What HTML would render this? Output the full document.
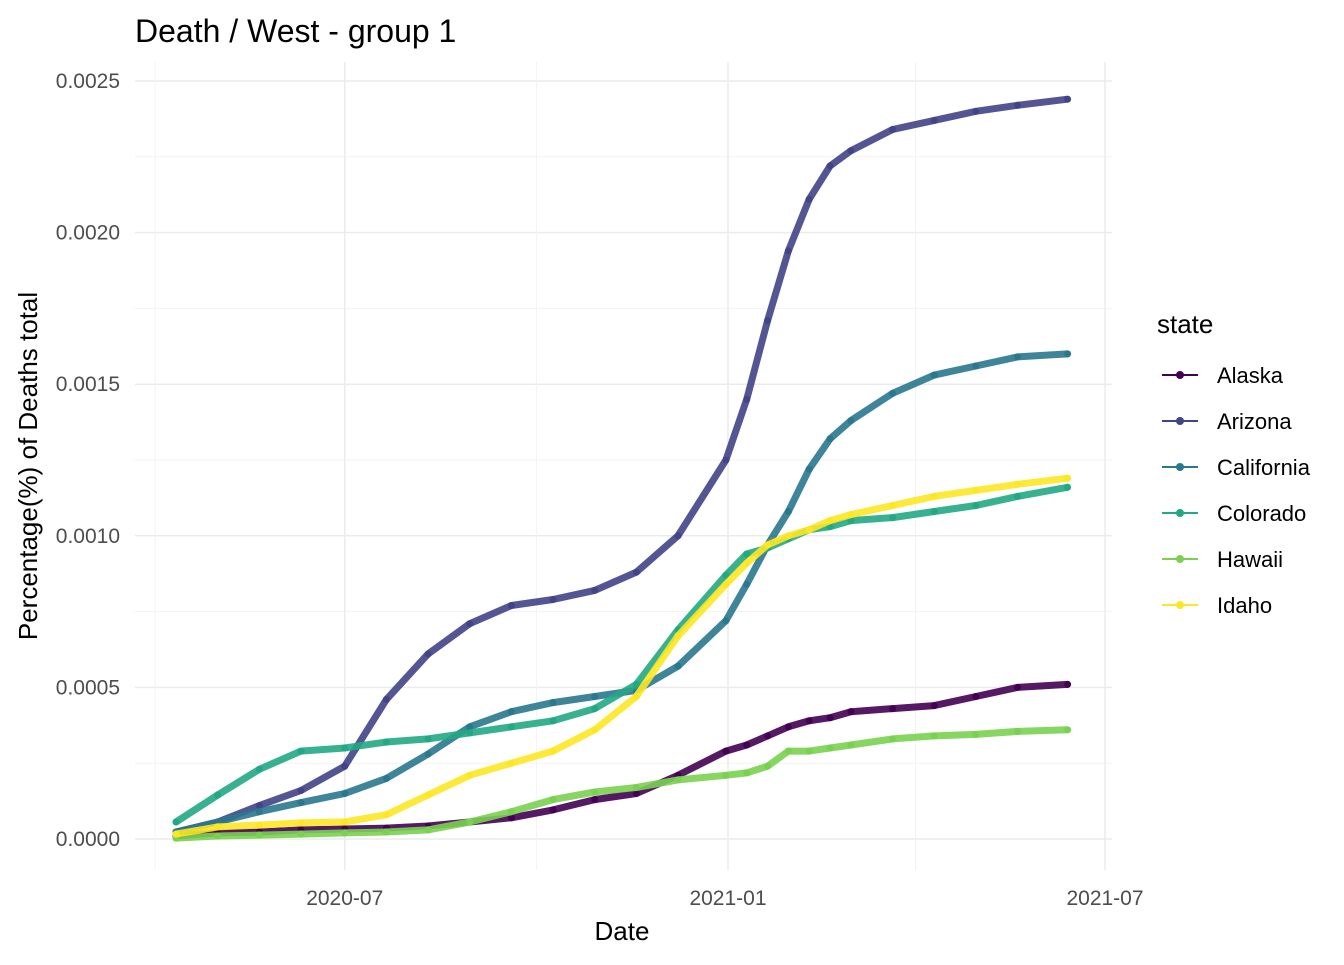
<!DOCTYPE html>
<html><head><meta charset="utf-8"><style>
body{margin:0;background:#fff;}
svg text{font-family:"Liberation Sans",Arial,sans-serif;}
</style></head><body>
<svg id="chart" width="1344" height="960">
<rect width="1344" height="960" fill="#fff"/>
<g id="grid"></g><g id="series"></g><g id="axes"></g>
<text x="135" y="42" font-size="32" fill="#000">Death / West - group 1</text>
<text x="622" y="940" font-size="26" text-anchor="middle" fill="#000">Date</text>
<text transform="translate(37,466) rotate(-90)" font-size="26" text-anchor="middle" fill="#000">Percentage(%) of Deaths total</text>
<text x="1157" y="333" font-size="26" fill="#000">state</text>
<g id="legend"></g>
</svg>
<script>
const dates=["2020-04-11","2020-05-01","2020-05-21","2020-06-10","2020-07-01","2020-07-21","2020-08-10","2020-08-30","2020-09-19","2020-10-09","2020-10-29","2020-11-18","2020-12-08","2020-12-31","2021-01-10","2021-01-20","2021-01-30","2021-02-09","2021-02-19","2021-03-01","2021-03-21","2021-04-10","2021-04-30","2021-05-20","2021-06-13"];
const states=["Alaska","Arizona","California","Colorado","Hawaii","Idaho"];
const alaska=[0.00001,0.00002,0.000023,0.00003,0.000033,0.000036,0.000043,0.000056,0.00007,0.000096,0.00013,0.00015,0.00021,0.00029,0.00031,0.00034,0.00037,0.00039,0.0004,0.00042,0.00043,0.00044,0.00047,0.0005,0.00051];
const arizona=[0.000023,0.000056,0.00011,0.00016,0.00024,0.00046,0.00061,0.00071,0.00077,0.00079,0.00082,0.00088,0.001,0.00125,0.00145,0.00171,0.00194,0.00211,0.00222,0.00227,0.00234,0.00237,0.0024,0.00242,0.00244];
const california=[0.000023,0.000056,0.00009,0.00012,0.00015,0.0002,0.00028,0.00037,0.00042,0.00045,0.00047,0.00049,0.00057,0.00072,0.00084,0.00097,0.00108,0.00122,0.00132,0.00138,0.00147,0.00153,0.00156,0.00159,0.0016];
const colorado=[0.000056,0.000145,0.00023,0.00029,0.0003,0.00032,0.00033,0.00035,0.00037,0.00039,0.00043,0.00051,0.00069,0.00087,0.00094,0.00096,0.00099,0.00102,0.00103,0.00105,0.00106,0.00108,0.0011,0.00113,0.00116];
const hawaii=[0.000003,0.00001,0.000013,0.000016,0.00002,0.000023,0.00003,0.000056,0.00009,0.00013,0.000155,0.00017,0.000195,0.00021,0.000218,0.00024,0.00029,0.00029,0.0003,0.00031,0.00033,0.00034,0.000345,0.000355,0.00036];
const idaho=[0.000016,0.00004,0.000046,0.000053,0.000056,0.00008,0.000145,0.00021,0.00025,0.00029,0.00036,0.00047,0.00067,0.00084,0.00091,0.00097,0.001,0.00102,0.00105,0.00107,0.0011,0.00113,0.00115,0.00117,0.00119];
const yTicks=[0,0.0005,0.001,0.0015,0.002,0.0025];
const yTickLabels=["0.0000","0.0005","0.0010","0.0015","0.0020","0.0025"];
const xTicks=["2020-07-01","2021-01-01","2021-07-01"];
const xTickLabels=["2020-07","2021-01","2021-07"];
const xMinor=["2020-04-01","2020-10-01","2021-04-01"];

const colors=["#440154","#414487","#2A788E","#22A884","#7AD151","#FDE725"];
const allSeries=[alaska,arizona,california,colorado,hawaii,idaho];
const NS="http://www.w3.org/2000/svg";
const t0=Date.parse("2021-01-01");
function xs(d){return 728+(Date.parse(d)-t0)/86400000*2.083;}
function ys(v){return 839-v/0.0005*151.6;}
function mk(tag,attrs,parent){const e=document.createElementNS(NS,tag);for(const k in attrs)e.setAttribute(k,attrs[k]);parent.appendChild(e);return e;}
const grid=document.getElementById('grid'),axes=document.getElementById('axes'),ser=document.getElementById('series'),leg=document.getElementById('legend');
const L=135,R=1112,T=62,B=870;
for(let i=0;i<yTicks.length;i++){
  const y=ys(yTicks[i]);
  const g=mk('line',{x1:L,x2:R,y1:y,y2:y,stroke:'#EBEBEB','stroke-width':1.5},grid);
  
  
  if(i<yTicks.length-1){const ym=ys((yTicks[i]+yTicks[i+1])/2);
    const m=mk('line',{x1:L,x2:R,y1:ym,y2:ym,stroke:'#F3F3F3','stroke-width':1},grid);
    
    }
  const t=mk('text',{x:120,y:y+7,'font-size':21,'text-anchor':'end',fill:'#4D4D4D'},axes);t.textContent=yTickLabels[i];
  
  
}
xTicks.forEach((d,i)=>{const x=xs(d);
  const g=mk('line',{x1:x,x2:x,y1:T,y2:B,stroke:'#EBEBEB','stroke-width':1.5},grid);
  
  
  const t=mk('text',{x:x,y:905,'font-size':21,'text-anchor':'middle',fill:'#4D4D4D'},axes);t.textContent=xTickLabels[i];
  
  
});
xMinor.forEach(d=>{const x=xs(d);
  const g=mk('line',{x1:x,x2:x,y1:T,y2:B,stroke:'#F3F3F3','stroke-width':1},grid);
  
  });
allSeries.forEach((vals,si)=>{
  const pts=vals.map((v,i)=>xs(dates[i]).toFixed(1)+','+ys(v).toFixed(1)).join(' ');
  const p=mk('polyline',{points:pts,fill:'none',stroke:colors[si],'stroke-width':7,'stroke-linecap':'round','stroke-linejoin':'round','stroke-opacity':0.9},ser);
  
  
  vals.forEach((v,i)=>{const c=mk('circle',{cx:xs(dates[i]),cy:ys(v),r:3.5,fill:colors[si]},ser);
    
    });
  const y=375+si*46;
  const g=mk('g',{},leg);
  
  
  mk('line',{x1:1162,x2:1198,y1:y,y2:y,stroke:colors[si],'stroke-width':2},g);
  mk('circle',{cx:1180,cy:y,r:4,fill:colors[si]},g);
  const t=mk('text',{x:1217,y:y+8,'font-size':22,fill:'#000'},g);t.textContent=states[si];
});
</script>
</body></html>
